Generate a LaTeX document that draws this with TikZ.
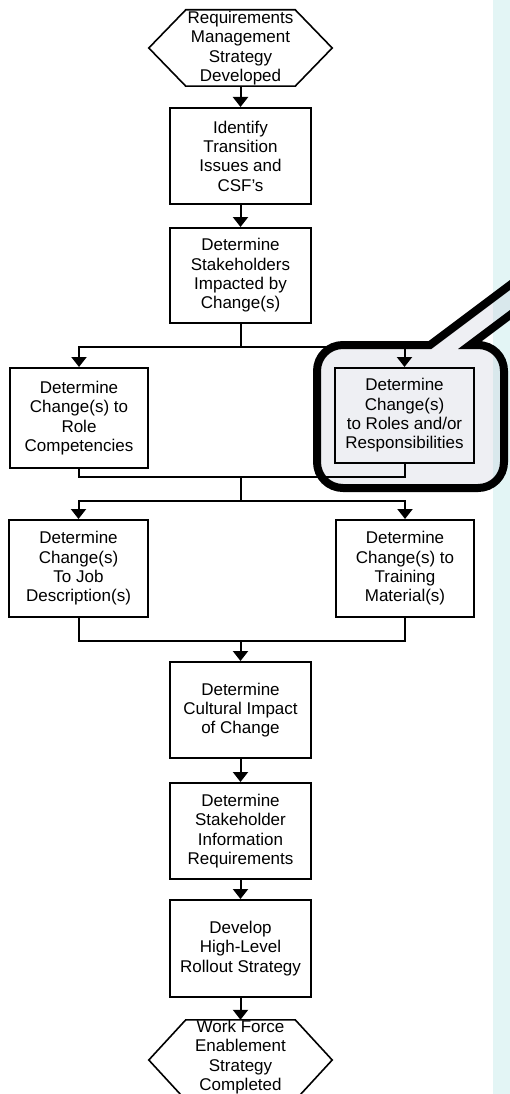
\documentclass[tikz,border=0pt]{standalone}
\usepackage{fontspec}
\setmainfont{Liberation Sans}
\usetikzlibrary{arrows.meta}
\definecolor{stripcyan}{RGB}{227,245,245}
\definecolor{calloutgray}{RGB}{191,195,211}
\begin{document}
\begin{tikzpicture}[x=1pt,y=-1pt,
  txt/.style={align=center, inner sep=0pt, font=\fontsize{17}{19.3}\selectfont},
  flowbox/.style={txt, draw, line width=2pt},
  terminal/.style={txt, minimum width=183pt},
  hexline/.style={line width=1.6pt, line join=miter},
  link/.style={line width=2pt},
  flow/.style={link, -{Triangle[width=15pt,length=10pt]}},
  calloutfill/.style={fill=calloutgray, fill opacity=0.25},
  calloutborder/.style={draw=black, line width=8pt, line join=miter}
]
\useasboundingbox (0,0) rectangle (510,1094);
\clip (0,0) rectangle (510,1094);
\fill[white] (0,0) rectangle (510,1094);

% side strip
\fill[stripcyan] (493,0) rectangle (510,1094);

% callout background
\path[calloutfill] (430,345) -- (343,345) .. controls (328.6,345) and (317,356.4) .. (317,371)
  -- (317,462) .. controls (317,476.6) and (328.6,488) .. (343,488)
  -- (478,488) .. controls (492.4,488) and (504,476.6) .. (504,462)
  -- (504,371) .. controls (504,356.4) and (492.4,345) .. (478,345)
  -- (470,345) -- (560,277.5) -- (560,247.5) -- cycle;

% start terminal
\node[terminal, minimum height=76pt] (start) at (240.5,48) {Requirements\\Management\\Strategy\\Developed};
\draw[hexline] (start.west) -- ([xshift=37pt]start.north west) -- ([xshift=-37pt]start.north east)
  -- (start.east) -- ([xshift=-37pt]start.south east) -- ([xshift=37pt]start.south west) -- cycle;

% process steps
\node[flowbox, minimum width=141pt, minimum height=96pt] (csf) at (240.5,156) {Identify\\Transition\\Issues and\\CSF's};
\node[flowbox, minimum width=141pt, minimum height=95pt] (stake) at (240.5,275.5) {Determine\\Stakeholders\\Impacted by\\Change(s)};
\node[flowbox, minimum width=138pt, minimum height=100pt] (comp) at (79,418) {Determine\\Change(s) to\\Role\\Competencies};
\node[flowbox, minimum width=139pt, minimum height=95pt] (roles) at (404.5,415.5) {Determine\\Change(s)\\to Roles and/or\\Responsibilities};
\node[flowbox, minimum width=139pt, minimum height=97pt] (jobs) at (78.5,568.5) {Determine\\Change(s)\\To Job\\Description(s)};
\node[flowbox, minimum width=138pt, minimum height=97pt] (train) at (405,568.5) {Determine\\Change(s) to\\Training\\Material(s)};
\node[flowbox, minimum width=141pt, minimum height=96pt] (culture) at (240.5,710) {Determine\\Cultural Impact\\of Change};
\node[flowbox, minimum width=141pt, minimum height=96pt] (info) at (240.5,831) {Determine\\Stakeholder\\Information\\Requirements};
\node[flowbox, minimum width=141pt, minimum height=97pt] (rollout) at (240.5,948.5) {Develop\\High-Level\\Rollout Strategy};

% end terminal
\node[terminal, minimum height=80pt] (finish) at (240.5,1060) {};
\node[txt] (finishtext) at (240.5,1057) {Work Force\\Enablement\\Strategy\\Completed};
\draw[hexline] (finish.west) -- ([xshift=37pt]finish.north west) -- ([xshift=-37pt]finish.north east)
  -- (finish.east) -- ([xshift=-37pt]finish.south east) -- ([xshift=37pt]finish.south west) -- cycle;

% branch points
\coordinate (split1) at (240.5,347);
\coordinate (merge1) at (240.5,477);
\coordinate (split2) at (240.5,501);
\coordinate (merge2) at (240.5,641);

% connectors
\draw[flow] (start.south) -- (csf.north);
\draw[flow] (csf.south) -- (stake.north);
\draw[link] (stake.south) -- (split1);
\draw[flow] (split1) -| (comp.north);
\draw[flow] (split1) -| (roles.north);
\draw[link] (comp.south) |- (merge1);
\draw[link] (roles.south) |- (merge1);
\draw[link] (merge1) -- (split2);
\draw[flow] (split2) -| (jobs.north);
\draw[flow] (split2) -| (train.north);
\draw[link] (jobs.south) |- (merge2);
\draw[link] (train.south) |- (merge2);
\draw[flow] (merge2) -- (culture.north);
\draw[flow] (culture.south) -- (info.north);
\draw[flow] (info.south) -- (rollout.north);
\draw[flow] (rollout.south) -- (finish.north);

% callout outline
\path[calloutborder] (430,345) -- (343,345) .. controls (328.6,345) and (317,356.4) .. (317,371)
  -- (317,462) .. controls (317,476.6) and (328.6,488) .. (343,488)
  -- (478,488) .. controls (492.4,488) and (504,476.6) .. (504,462)
  -- (504,371) .. controls (504,356.4) and (492.4,345) .. (478,345)
  -- (470,345) -- (560,277.5) -- (560,247.5) -- cycle;
\end{tikzpicture}
\end{document}
